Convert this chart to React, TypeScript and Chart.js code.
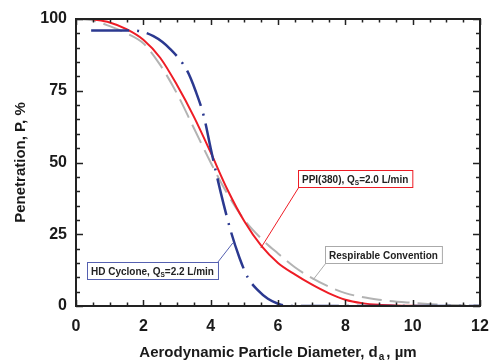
import React, { useEffect, useRef } from "react";
import { Chart, registerables } from "chart.js";

Chart.register(...registerables);

// HD Cyclone, Qs = 2.2 L/min
const cycloneX = [0.45, 1.7, 2.3, 2.8, 3.3, 3.55, 3.8, 4.0, 4.3, 4.6, 4.85, 5.1, 5.4, 5.7, 6.0, 6.3, 12];
const cycloneY = [96, 96, 94, 89.5, 82, 75, 66, 55, 39.5, 26, 17, 10, 5.5, 2.5, 0.8, 0, 0];

// PPI(380), Qs = 2.0 L/min
const ppiX = [0.45, 1, 1.5, 2, 2.5, 3, 3.5, 4, 4.5, 5, 5.5, 6, 6.5, 7, 7.5, 8, 8.5, 9, 9.5, 10, 10.6];
const ppiY = [100, 98.8, 96.5, 92.8, 86.5, 77, 66, 53.5, 40.5, 29.5, 21, 15, 11, 7.5, 4.5, 2.2, 1, 0.4, 0.15, 0.05, 0];

// Respirable Convention
const respX = [0, 0.5, 1, 1.5, 2, 2.5, 3, 3.5, 4, 4.5, 5, 5.5, 6, 6.5, 7, 7.5, 8, 9, 10, 11, 12];
const respY = [100, 99.5, 97.5, 95, 91.5, 84, 74, 62, 50, 39, 30, 23.5, 18.3, 13.5, 9.8, 6.8, 4.5, 2.2, 1.1, 0.4, 0.2];

const xTicks = [0, 2, 4, 6, 8, 10, 12];
const yTicks = [0, 25, 50, 75, 100];

const RED = "#ee1c25";
const BLUE = "#2b3990";
const GRAY = "#b3b3b3";
const FONT = "'Liberation Sans', Arial, sans-serif";

type Note = {
  parts: { t: string; sub?: boolean }[];
  color: string;
  boxX: number;
  boxY: number;
  anchor: "bl" | "tr";
  toX: number;
  toY: number;
};

const notes: Note[] = [
  {
    parts: [{ t: "PPI(380), Q" }, { t: "S", sub: true }, { t: "=2.0 L/min" }],
    color: RED,
    boxX: 6.59,
    boxY: 47.4,
    anchor: "bl",
    toX: 5.49,
    toY: 20.2,
  },
  {
    parts: [{ t: "Respirable Convention" }],
    color: "#aaaaaa",
    boxX: 7.4,
    boxY: 20.9,
    anchor: "bl",
    toX: 7.04,
    toY: 9.1,
  },
  {
    parts: [{ t: "HD Cyclone, Q" }, { t: "S", sub: true }, { t: "=2.2 L/min" }],
    color: "#5560b0",
    boxX: 0.33,
    boxY: 15.3,
    anchor: "tr",
    toX: 4.66,
    toY: 22,
  },
];

const pts = (xs: number[], ys: number[]) => xs.map((x, i) => ({ x, y: ys[i] }));

const decorPlugin = {
  id: "decor",
  afterDatasetsDraw(chart: any) {
    const { ctx, scales } = chart;
    const xs = scales.x;
    const ys = scales.y;
    const big = `bold 10px ${FONT}`;
    const small = `bold 6.5px ${FONT}`;
    ctx.save();
    for (const n of notes) {
      let w = 0;
      for (const p of n.parts) {
        ctx.font = p.sub ? small : big;
        w += ctx.measureText(p.t).width;
      }
      const bw = w + 8;
      const bh = 17;
      const bx = Math.round(xs.getPixelForValue(n.boxX));
      const by = Math.round(ys.getPixelForValue(n.boxY));
      ctx.fillStyle = "#ffffff";
      ctx.fillRect(bx, by, bw, bh);
      ctx.strokeStyle = n.color;
      ctx.lineWidth = 1;
      ctx.strokeRect(bx + 0.5, by + 0.5, bw, bh);
      const sx = n.anchor === "bl" ? bx + 1 : bx + bw;
      const sy = n.anchor === "bl" ? by + bh : by;
      ctx.beginPath();
      ctx.moveTo(sx, sy);
      ctx.lineTo(xs.getPixelForValue(n.toX), ys.getPixelForValue(n.toY));
      ctx.stroke();
      ctx.fillStyle = "#222222";
      ctx.textBaseline = "alphabetic";
      ctx.textAlign = "left";
      let cx = bx + 4;
      const base = by + 12.5;
      for (const p of n.parts) {
        ctx.font = p.sub ? small : big;
        ctx.fillText(p.t, cx, p.sub ? base + 2 : base);
        cx += ctx.measureText(p.t).width;
      }
    }
    ctx.restore();
  },
  afterDraw(chart: any) {
    const { ctx, chartArea: a, scales } = chart;
    const xs = scales.x;
    const ys = scales.y;
    ctx.save();
    ctx.strokeStyle = "#222222";
    ctx.lineWidth = 1.5;
    ctx.beginPath();
    for (let v = 0; v <= 12.001; v += 0.5) {
      const px = Math.round(xs.getPixelForValue(v)) + 0.5;
      const major = Math.abs(v / 2 - Math.round(v / 2)) < 1e-6;
      const len = major ? 6 : 3.5;
      ctx.moveTo(px, a.bottom);
      ctx.lineTo(px, a.bottom - len);
      ctx.moveTo(px, a.top);
      ctx.lineTo(px, a.top + len);
    }
    for (let v = 0; v <= 100.001; v += 5) {
      const py = Math.round(ys.getPixelForValue(v)) + 0.5;
      const major = v % 25 === 0;
      const len = major ? 7 : 4;
      ctx.moveTo(a.left, py);
      ctx.lineTo(a.left + len, py);
      ctx.moveTo(a.right, py);
      ctx.lineTo(a.right - len, py);
    }
    ctx.stroke();
    ctx.lineWidth = 2;
    ctx.strokeRect(a.left, a.top, a.right - a.left, a.bottom - a.top);

    ctx.fillStyle = "#1a1a1a";
    ctx.textBaseline = "middle";
    const main = `bold 15px ${FONT}`;
    const sub = `bold 10px ${FONT}`;
    const xParts = [
      { t: "Aerodynamic Particle Diameter, d", f: main, dy: 0, extra: 0 },
      { t: "a", f: sub, dy: 4, extra: 3 },
      { t: ", \u00b5m", f: main, dy: 0, extra: 0 },
    ];
    let tw = 0;
    for (const p of xParts) {
      ctx.font = p.f;
      tw += ctx.measureText(p.t).width + p.extra;
    }
    let cx = (a.left + a.right) / 2 - tw / 2;
    ctx.textAlign = "left";
    for (const p of xParts) {
      ctx.font = p.f;
      ctx.fillText(p.t, cx + (p.extra ? 1 : 0), 353 + p.dy);
      cx += ctx.measureText(p.t).width + p.extra;
    }
    ctx.translate(21, (a.top + a.bottom) / 2);
    ctx.rotate(-Math.PI / 2);
    ctx.textAlign = "center";
    ctx.font = main;
    ctx.fillText("Penetration, P, %", 0, 0);
    ctx.restore();
  },
};

export default function App() {
  const ref = useRef<HTMLCanvasElement | null>(null);
  useEffect(() => {
    if (!ref.current) return;
    const chart = new Chart(ref.current, {
      type: "line",
      data: {
        datasets: [
          {
            label: "HD Cyclone",
            data: pts(cycloneX, cycloneY),
            borderColor: BLUE,
            borderWidth: 2.5,
            borderDash: [38, 8, 2, 8],
            pointRadius: 0,
            cubicInterpolationMode: "monotone",
            fill: false,
          },
          {
            label: "PPI(380)",
            data: pts(ppiX, ppiY),
            borderColor: RED,
            borderWidth: 2,
            pointRadius: 0,
            cubicInterpolationMode: "monotone",
            fill: false,
          },
          {
            label: "Respirable Convention",
            data: pts(respX, respY),
            borderColor: GRAY,
            borderWidth: 2,
            borderDash: [20, 8],
            pointRadius: 0,
            cubicInterpolationMode: "monotone",
            fill: false,
          },
        ],
      },
      options: {
        responsive: false,
        animation: false,
        events: [],
        layout: { padding: { left: 0, right: 9, top: 19, bottom: 0 } },
        plugins: { legend: { display: false }, tooltip: { enabled: false } },
        scales: {
          x: {
            type: "linear",
            min: 0,
            max: 12,
            afterFit: (s: any) => {
              s.height = 58;
              s.paddingLeft = 0;
              s.paddingRight = 0;
            },
            afterBuildTicks: (s: any) => {
              s.ticks = xTicks.map((v) => ({ value: v }));
            },
            grid: { display: false, drawTicks: false },
            border: { display: false },
            ticks: {
              padding: 11,
              color: "#1a1a1a",
              font: { family: FONT, size: 16, weight: "bold" },
              maxRotation: 0,
            },
          },
          y: {
            type: "linear",
            min: 0,
            max: 100,
            afterFit: (s: any) => {
              s.width = 76;
              s.paddingTop = 0;
              s.paddingBottom = 0;
            },
            afterBuildTicks: (s: any) => {
              s.ticks = yTicks.map((v) => ({ value: v }));
            },
            grid: { display: false, drawTicks: false },
            border: { display: false },
            ticks: {
              padding: 9,
              color: "#1a1a1a",
              font: { family: FONT, size: 16, weight: "bold" },
            },
          },
        },
      },
      plugins: [decorPlugin],
    } as any);
    return () => chart.destroy();
  }, []);
  return (
    <div style={{ position: "fixed", left: 0, top: 0, width: 489, height: 364, background: "#fff" }}>
      <canvas ref={ref} width={489} height={364} style={{ width: 489, height: 364, display: "block" }} />
    </div>
  );
}
